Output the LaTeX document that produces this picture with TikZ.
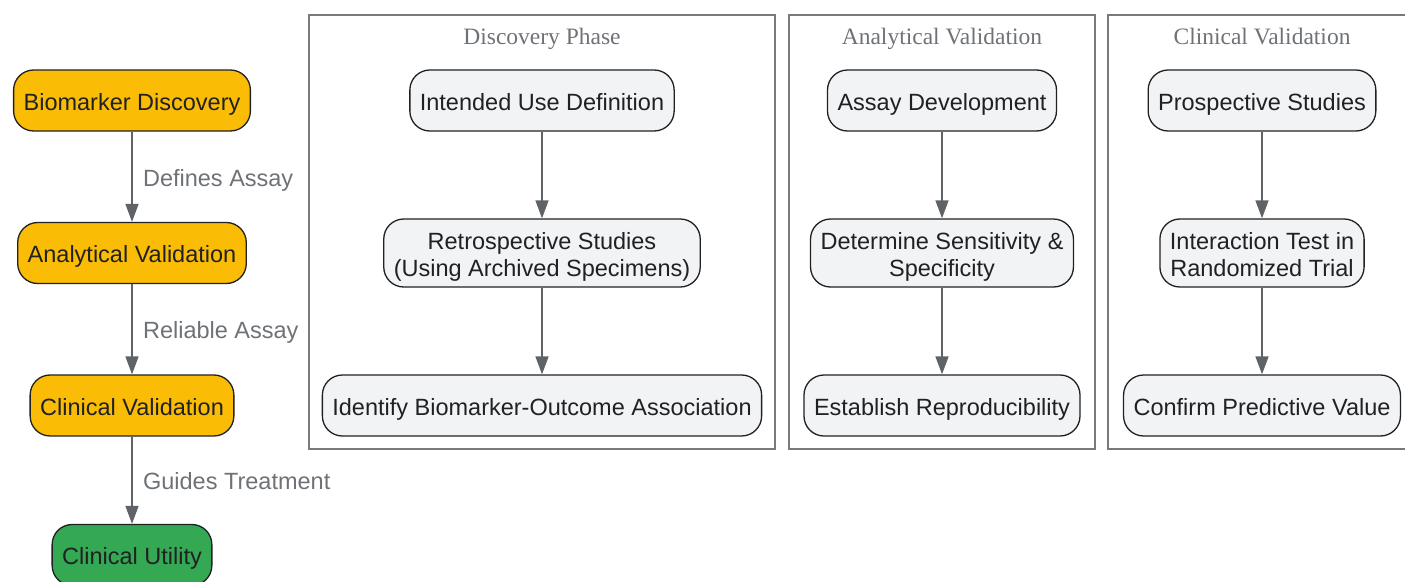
\documentclass[tikz,border=0pt]{standalone}
\usepackage{fontspec}
\setmainfont{Liberation Serif}
\setsansfont{Liberation Sans}
\usepackage{xcolor}
\usetikzlibrary{arrows.meta}

\definecolor{stageyellow}{HTML}{FBBC05}
\definecolor{stagegreen}{HTML}{34A853}
\definecolor{taskgray}{HTML}{F1F3F4}
\definecolor{inktext}{HTML}{202124}
\definecolor{edgegray}{HTML}{5F6368}
\definecolor{labelgray}{HTML}{6E7277}
\definecolor{boxgray}{HTML}{7A7A7A}

% struts, so two-line texts sit centred like the single ones
\newcommand{\firstline}{\rule{0pt}{25pt}}
\newcommand{\lastline}{\rule[-6pt]{0pt}{6pt}}

\begin{document}
\begin{tikzpicture}[x=1pt, y=-1pt, node distance=152.5pt, font=\sffamily\fontsize{23.5}{27}\selectfont]

    % Styles of nodes and arrows
    \tikzstyle{stage} = [rectangle, rounded corners=20pt, minimum height=61pt, inner xsep=10pt, text height=24pt, text depth=5pt, text centered, draw=inktext, line width=1.3pt, fill=stageyellow, text=inktext]
    \tikzstyle{outcome} = [stage, fill=stagegreen]
    \tikzstyle{task} = [stage, fill=taskgray]
    \tikzstyle{task2} = [task, text height=, text depth=, align=center, minimum height=68pt]
    \tikzstyle{arrow} = [line width=1.5pt, draw=edgegray, -{Triangle[length=18pt,width=13pt]}]
    \tikzstyle{edgelabel} = [midway, right=7pt, text height=24pt, text depth=5pt, text=labelgray]
    \tikzstyle{cluster} = [draw=boxgray, line width=1.5pt]
    \tikzstyle{clustertitle} = [font=\rmfamily\fontsize{23.5}{27}\selectfont, text height=17pt, text depth=5pt, text=labelgray]

    \useasboundingbox (0,0) rectangle (1405,581);

    % Validation path
    \node (discovery) [stage] at (132,100.5) {Biomarker Discovery};
    \node (analytical) [stage, below of=discovery] {Analytical Validation};
    \node (clinical) [stage, below of=analytical] {Clinical Validation};
    \node (utility) [outcome, below of=clinical, node distance=149.5pt] {Clinical Utility};

    \draw [arrow] (discovery) -- node[edgelabel] {Defines Assay} (analytical);
    \draw [arrow] (analytical) -- node[edgelabel] {Reliable Assay} (clinical);
    \draw [arrow] (clinical) -- node[edgelabel] {Guides Treatment} (utility);

    % Cluster frames
    \draw [cluster] (309,15) rectangle (775,449);
    \draw [cluster] (789,15) rectangle (1095,449);
    \draw [cluster] (1108,15) rectangle (1416,449);
    \node (disctitle) [clustertitle] at (542,38) {Discovery Phase};
    \node (anatitle) [clustertitle] at (942,38) {Analytical Validation};
    \node (clintitle) [clustertitle] at (1262,38) {Clinical Validation};

    % Discovery phase
    \node (intended) [task] at (542,100.5) {Intended Use Definition};
    \node (retro) [task2, below of=intended] {\firstline Retrospective Studies\\(Using Archived Specimens)\lastline};
    \node (associate) [task, below of=retro] {Identify Biomarker-Outcome Association};
    \draw [arrow] (intended) -- (retro);
    \draw [arrow] (retro) -- (associate);

    % Analytical validation
    \node (assay) [task] at (942,100.5) {Assay Development};
    \node (sensitivity) [task2, below of=assay] {\firstline Determine Sensitivity \&\\Specificity\lastline};
    \node (reproduce) [task, below of=sensitivity] {Establish Reproducibility};
    \draw [arrow] (assay) -- (sensitivity);
    \draw [arrow] (sensitivity) -- (reproduce);

    % Clinical validation
    \node (prospective) [task] at (1262,100.5) {Prospective Studies};
    \node (interaction) [task2, below of=prospective] {\firstline Interaction Test in\\Randomized Trial\lastline};
    \node (predictive) [task, below of=interaction] {Confirm Predictive Value};
    \draw [arrow] (prospective) -- (interaction);
    \draw [arrow] (interaction) -- (predictive);

\end{tikzpicture}
\end{document}
